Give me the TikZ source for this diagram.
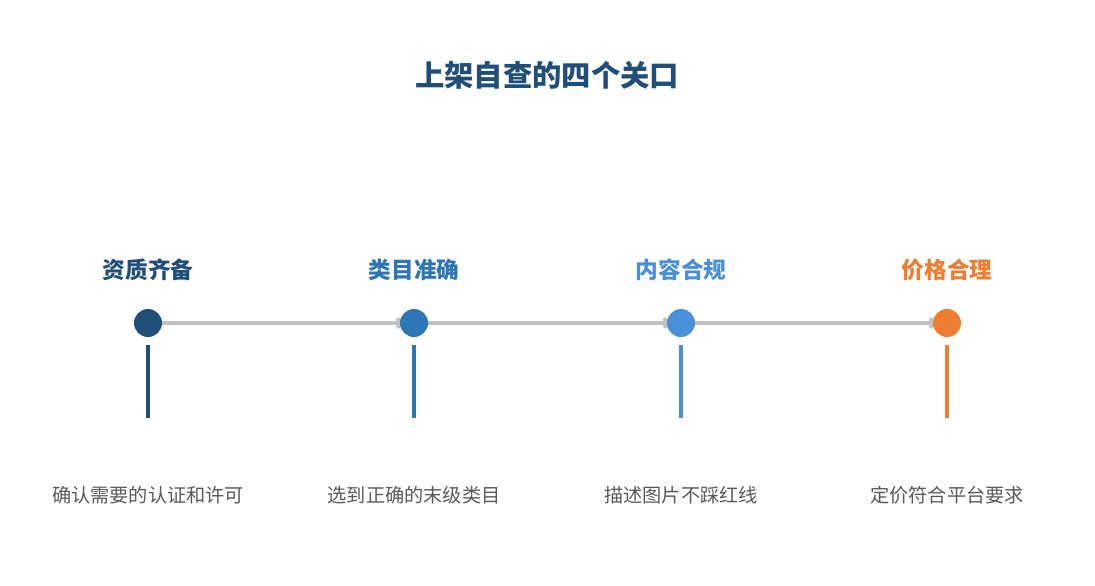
\documentclass[tikz,border=0pt]{standalone}
\usepackage{fontspec}
\newfontfamily\cjk{Noto Sans CJK SC}
\usetikzlibrary{calc,arrows.meta}

\definecolor{navy}{HTML}{1F4E79}
\definecolor{midblue}{HTML}{2E75B6}
\definecolor{skyblue}{HTML}{4A90D9}
\definecolor{orangey}{HTML}{ED7D31}
\definecolor{railgray}{HTML}{C0C0C0}
\definecolor{notegray}{HTML}{595959}

\tikzset{
	stage/.style={circle, minimum size=21pt, inner sep=0pt},
	head/.style={font=\cjk\bfseries\fontsize{17}{20}\selectfont},
	note/.style={font=\cjk\fontsize{14.4}{17}\selectfont, text=notegray},
	rail/.style={line width=3pt, railgray, shorten >=-3pt, -{Straight Barb[length=3pt,width=7pt]}},
	stem/.style={line width=3pt}
}

\begin{document}
\begin{tikzpicture}[x=0.75pt, y=-0.75pt]
			%%%%% START %%%%%
			
			\useasboundingbox (0, 0) rectangle (1095, 585);
			
			\node[font=\cjk\bfseries\fontsize{22}{26}\selectfont, text=navy] (title) at (547, 75) {上架自查的四个关口};
			
			\node[stage] (d1) at (148, 323) {};
			\node[stage] (d2) at (414, 323) {};
			\node[stage] (d3) at (681, 323) {};
			\node[stage] (d4) at (947, 323) {};
			
			\draw[rail] (d1.east) -- (d2.west);
			\draw[rail] (d2.east) -- (d3.west);
			\draw[rail] (d3.east) -- (d4.west);
			
			\fill[navy] (d1) circle (14);
			\fill[midblue] (d2) circle (14);
			\fill[skyblue] (d3) circle (14);
			\fill[orangey] (d4) circle (14);
			
			\node[head, text=navy] (h1) at (148, 270) {资质齐备};
			\node[head, text=midblue] (h2) at (414, 270) {类目准确};
			\node[head, text=skyblue] (h3) at (681, 270) {内容合规};
			\node[head, text=orangey] (h4) at (947, 270) {价格合理};
			
			\draw[stem, navy] ($(d1)+(0, 22)$) -- ($(d1)+(0, 95)$);
			\draw[stem, midblue] ($(d2)+(0, 22)$) -- ($(d2)+(0, 95)$);
			\draw[stem, skyblue] ($(d3)+(0, 22)$) -- ($(d3)+(0, 95)$);
			\draw[stem, orangey] ($(d4)+(0, 22)$) -- ($(d4)+(0, 95)$);
			
			\node[note] (n1) at (148, 495) {确认需要的认证和许可};
			\node[note] (n2) at (414, 495) {选到正确的末级类目};
			\node[note] (n3) at (681, 495) {描述图片不踩红线};
			\node[note] (n4) at (947, 495) {定价符合平台要求};
			
			%%%%% END %%%%%
		\end{tikzpicture}
\end{document}
